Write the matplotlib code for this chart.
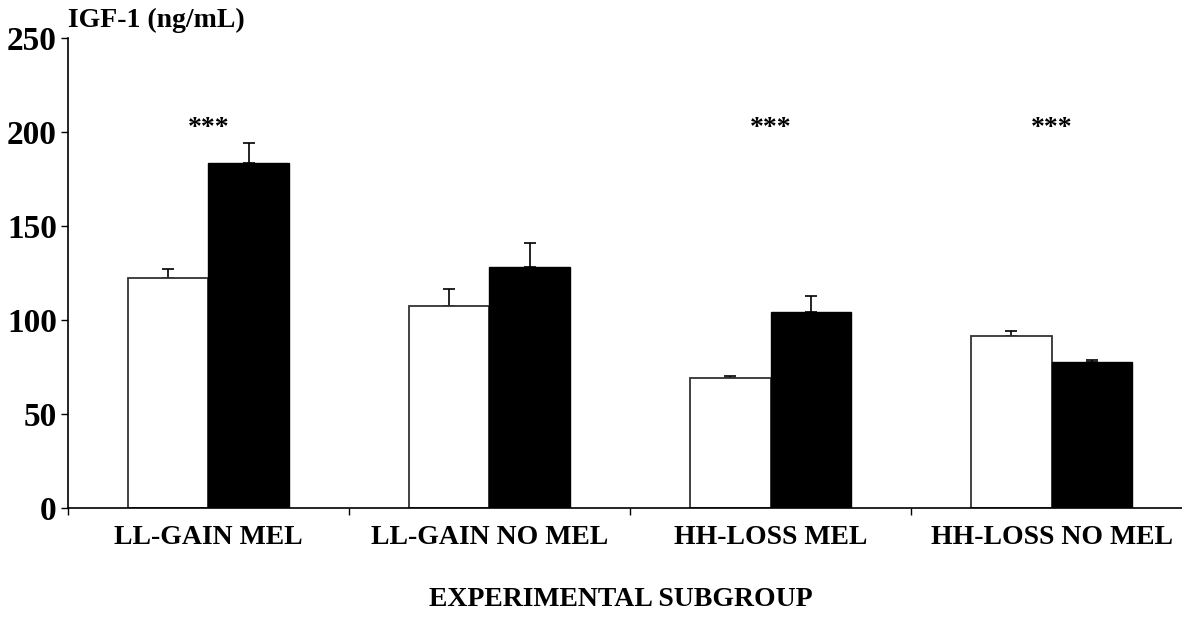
import matplotlib
matplotlib.use("Agg")
import matplotlib.pyplot as plt
import numpy as np

plt.rcParams['font.family'] = ['Liberation Serif', 'DejaVu Serif']
plt.rcParams['font.weight'] = 'bold'

# IGF-1 means and SEM per subgroup (open = first bar, filled = second bar)
groups = ['LL-GAIN MEL', 'LL-GAIN NO MEL', 'HH-LOSS MEL', 'HH-LOSS NO MEL']
open_mean = [122.3, 107.4, 69.0, 91.7]
open_sem = [4.8, 8.9, 1.4, 2.6]
filled_mean = [183.3, 128.2, 104.1, 77.5]
filled_sem = [10.8, 12.6, 8.9, 1.4]
signif = ['***', '', '***', '***']

fig = plt.figure(figsize=(11.82, 6.17), dpi=100)
ax = fig.add_axes([0.0575, 0.1767, 0.9510, 0.7618])

x = np.arange(len(groups))
w = 0.287

ax.bar(x - w / 2, open_mean, w, color='white', edgecolor='#333333', linewidth=1.3,
       zorder=2)
ax.bar(x + w / 2, filled_mean, w, color='black', edgecolor='black', linewidth=1.0,
       zorder=2)
# upper half of the error bars only
ax.errorbar(x - w / 2, open_mean, yerr=[np.zeros(4), open_sem], fmt='none',
            ecolor='black', elinewidth=1.2, capsize=4, capthick=1.2, zorder=1)
ax.errorbar(x + w / 2, filled_mean, yerr=[np.zeros(4), filled_sem], fmt='none',
            ecolor='black', elinewidth=1.2, capsize=4, capthick=1.2, zorder=1)

for xi, s in zip(x, signif):
    if s:
        ax.text(xi, 202, s, ha='center', va='center', fontsize=20, fontweight='bold')

ax.set_xlim(-0.5, len(groups) - 0.5)
ax.set_ylim(0, 250)
ax.set_yticks([0, 50, 100, 150, 200, 250])
ax.tick_params(axis='y', direction='out', length=5, width=1, pad=3, labelsize=24)

ax.set_xticks(x)
ax.set_xticklabels(groups, fontsize=20, fontweight='bold')
ax.set_xticks(np.arange(len(groups) + 1) - 0.5, minor=True)
ax.tick_params(axis='x', which='major', length=0, pad=12)
ax.tick_params(axis='x', which='minor', direction='out', length=5, width=1)

for side in ['top', 'right']:
    ax.spines[side].set_visible(False)
ax.spines['left'].set_linewidth(1.2)
ax.spines['bottom'].set_linewidth(1.2)

fig.text(68 / 1182, 1 - 20 / 617, 'IGF-1 (ng/mL)', ha='left', va='center',
         fontsize=20, fontweight='bold')
fig.text(621 / 1182, 1 - 600 / 617, 'EXPERIMENTAL SUBGROUP', ha='center',
         va='center', fontsize=20, fontweight='bold')

fig.savefig('out.png', dpi=100)
